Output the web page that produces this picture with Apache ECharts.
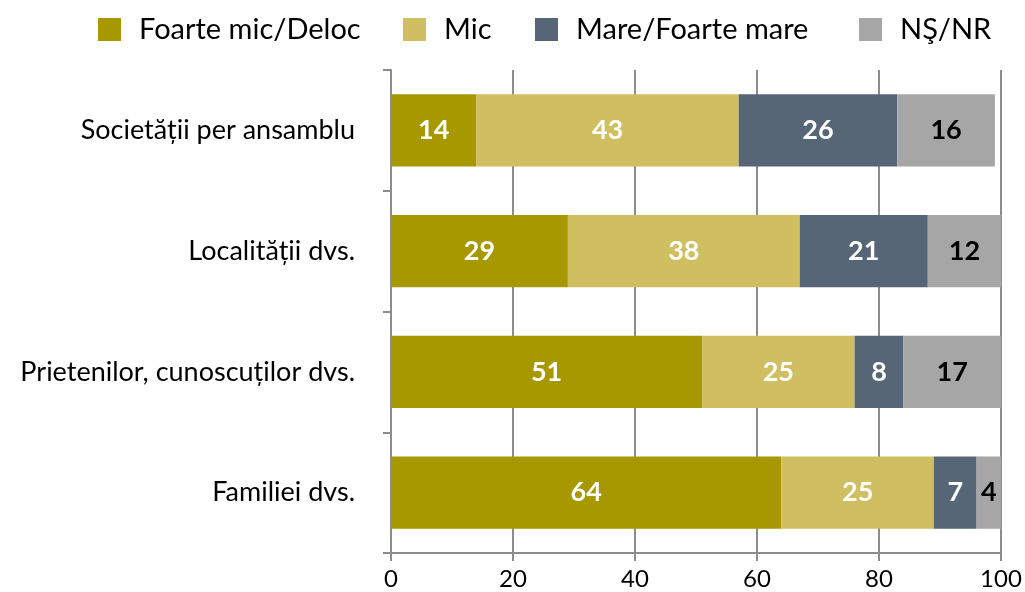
<!DOCTYPE html>
<html>
<head>
<meta charset="utf-8">
<script src="https://cdn.jsdelivr.net/npm/echarts@6/dist/echarts.min.js"></script>
<style>
  html, body { margin: 0; padding: 0; background: #fff; }
  #chart { width: 1025px; height: 592px; }
</style>
</head>
<body>
<div id="chart"></div>
<script>
// Categories, top to bottom
const categories = ['Societății per ansamblu', 'Localității dvs.', 'Prietenilor, cunoscuților dvs.', 'Familiei dvs.'];
const seriesNames = ['Foarte mic/Deloc', 'Mic', 'Mare/Foarte mare', 'N\u015E/NR'];
// Percentages per answer, in category order
const foarteMic = [14, 29, 51, 64];
const mic = [43, 38, 25, 25];
const mare = [26, 21, 8, 7];
const nsnr = [16, 12, 17, 4];
const xTicks = [0, 20, 40, 60, 80, 100];

const colors = ['#A89800', '#D0BF60', '#566677', '#A6A6A6'];
const labelColors = ['#ffffff', '#ffffff', '#ffffff', '#000000'];
const values = [foarteMic, mic, mare, nsnr];
const FONT = 'Lato';
const AXIS = '#8c8c8c';

// one legend block per answer, laid out left to right
const legendLefts = [98, 403, 535, 859];

const chart = echarts.init(document.getElementById('chart'), null, { renderer: 'canvas' });

chart.setOption({
  animation: false,
  legend: seriesNames.map((n, i) => ({
    data: [n],
    left: legendLefts[i],
    top: 15,
    padding: 0,
    itemWidth: 23,
    itemHeight: 23,
    icon: 'rect',
    selectedMode: false,
    textStyle: { fontFamily: FONT, fontSize: 29, color: '#000', padding: [0, 0, 0, 13] }
  })),
  grid: { left: 391, right: 24, top: 70, bottom: 39, containLabel: false },
  xAxis: {
    type: 'value',
    min: xTicks[0],
    max: xTicks[xTicks.length - 1],
    interval: 20,
    axisLine: { show: true, lineStyle: { color: AXIS, width: 2 } },
    axisTick: { show: true, length: 8, lineStyle: { color: AXIS, width: 2 } },
    splitLine: { show: true, lineStyle: { color: AXIS, width: 2 } },
    axisLabel: { fontFamily: FONT, fontSize: 24, color: '#000', margin: 14 }
  },
  yAxis: {
    type: 'category',
    inverse: true,
    data: categories,
    axisLine: { show: true, lineStyle: { color: AXIS, width: 2 } },
    axisTick: { show: true, length: 8, inside: false, lineStyle: { color: AXIS, width: 2 } },
    axisLabel: { fontFamily: FONT, fontSize: 27, color: '#000', margin: 36 }
  },
  series: values.map((v, i) => ({
    name: seriesNames[i],
    type: 'bar',
    stack: 'total',
    data: v,
    barCategoryGap: '40%',
    itemStyle: { color: colors[i] },
    label: {
      show: true,
      position: 'inside',
      fontFamily: FONT,
      fontWeight: 'bold',
      fontSize: 27,
      color: labelColors[i]
    }
  }))
});
</script>
</body>
</html>
